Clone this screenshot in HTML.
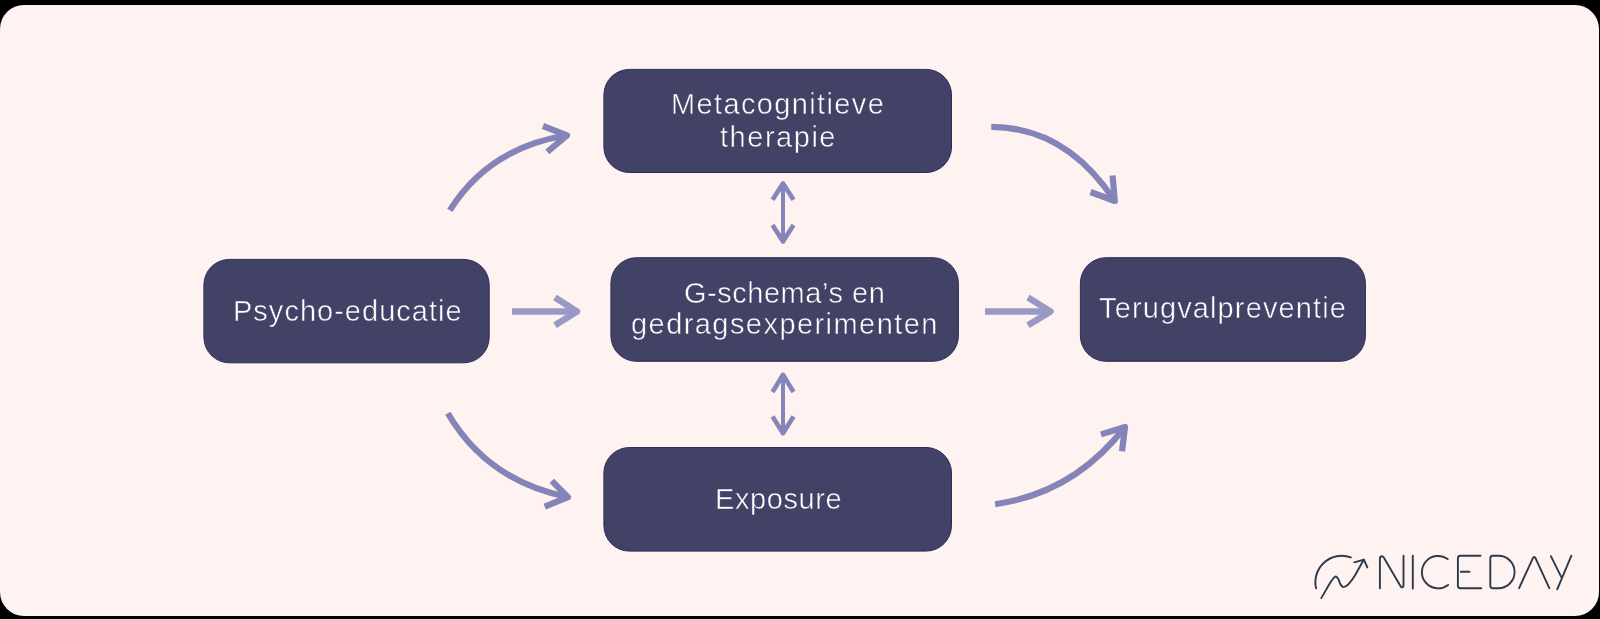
<!DOCTYPE html>
<html>
<head>
<meta charset="utf-8">
<style>
html,body{margin:0;padding:0;}
body{width:1600px;height:619px;background:#000;position:relative;overflow:hidden;font-family:"Liberation Sans",sans-serif;}
.bg{position:absolute;left:0;top:5px;width:1599px;height:611px;background:#fef3f1;border-radius:24px;}
.t{position:absolute;color:#fff;font-size:29px;line-height:32px;white-space:nowrap;will-change:transform;-webkit-text-stroke:0.5px #424166;}
svg{position:absolute;left:0;top:0;}
</style>
</head>
<body>
<div class="bg"></div>
<svg width="1600" height="619" viewBox="0 0 1600 619">
 <g fill="#424166" stroke="#2c2b5c" stroke-width="1">
  <rect x="203.9" y="259.4" width="285.3" height="103.4" rx="25.5"/>
  <rect x="603.9" y="69.4" width="347.6" height="103.1" rx="25.5"/>
  <rect x="610.9" y="257.7" width="347.5" height="103.6" rx="25.5"/>
  <rect x="603.9" y="447.5" width="347.6" height="103.6" rx="25.5"/>
  <rect x="1080.4" y="257.7" width="285.0" height="103.6" rx="25.5"/>
 </g>
 <g fill="none" stroke="#8584b9" stroke-width="6.2" stroke-linejoin="round">
  <path d="M449.8 210.4 Q488.9 147.8 567 135.3"/>
  <path d="M543 126 L567 135.3 L547.3 151.8"/>
  <path d="M991.3 126.9 Q1066 127 1114.8 201"/>
  <path d="M1112.6 175.5 L1114.8 201 L1090.5 192"/>
  <path d="M447.8 413.3 Q487.6 481 568 497.2"/>
  <path d="M551.8 480.9 L568 497.2 L544.7 506.7"/>
  <path d="M995.1 504.2 Q1074 493 1125 427"/>
  <path d="M1101 434.4 L1125 427 L1122 451.3"/>
 </g>
 <g fill="none" stroke="#9a98c5" stroke-width="6.5" stroke-linejoin="round">
  <path d="M512 311.4 L577 311.4"/>
  <path d="M555 297.5 L577 311.4 L555 325.3"/>
  <path d="M985 311.4 L1050.5 311.4"/>
  <path d="M1028 297.5 L1050.5 311.4 L1028 325.3"/>
 </g>
 <g fill="none" stroke="#8685ba" stroke-linejoin="round">
  <path stroke-width="4" d="M783 185 L783 240.5"/>
  <path stroke-width="4.6" d="M772.5 199.7 L783 183.5 L793.5 199.7"/>
  <path stroke-width="4.6" d="M772.5 225 L783 241.5 L793.5 225"/>
  <path stroke-width="4" d="M783 376 L783 432"/>
  <path stroke-width="4.6" d="M772.5 392 L783 374.8 L793.5 392"/>
  <path stroke-width="4.6" d="M772.5 416.5 L783 433.3 L793.5 416.5"/>
 </g>
 <g fill="none" stroke="#2c3a4b" stroke-width="1.9" stroke-linecap="round" stroke-linejoin="round">
  <path d="M1316.1 588.4 A26.4 26.4 0 0 1 1350.8 557.4"/>
  <path d="M1321.3 598.0 C1322.1 596.6 1324.6 592.4 1326.2 589.6 C1327.8 586.9 1329.5 583.7 1331.0 581.5 C1332.5 579.3 1334.2 577.0 1335.4 576.6 C1336.6 576.2 1337.4 577.8 1338.3 579.1 C1339.2 580.5 1339.8 583.4 1340.7 584.7 C1341.6 586.0 1342.3 587.1 1343.5 587.1 C1344.7 587.1 1346.0 586.7 1348.0 584.7 C1350.0 582.7 1352.6 579.2 1355.2 575.0 C1357.8 570.8 1362.3 562.2 1363.7 559.7"/>
  <path d="M1354.4 562.3 L1363.9 559.6 L1367.3 567.4"/>
  <path d="M1379.9 588.4 V559 Q1379.9 556.2 1381.9 556.2 Q1382.9 556.2 1383.6 557.3 L1400.6 586.2 Q1401.3 587.4 1402 587.4 Q1403.5 587.4 1403.5 585 V555.7"/>
  <path d="M1412.8 555.7 L1412.8 588.5"/>
  <path d="M1447.7 559.1 A16.2 16.2 0 1 0 1448.1 584.9"/>
  <path d="M1480.5 555.8 H1460.4 Q1457.9 555.8 1457.9 558.3 V585.7 Q1457.9 588.2 1460.4 588.2 H1481.2"/>
  <path d="M1460.8 571.8 L1469.5 571.8"/>
  <path d="M1490.3 558.3 V585.7 Q1490.3 588.2 1492.8 588.2 H1498.4 A16.2 16.2 0 0 0 1498.4 555.8 H1492.8 Q1490.3 555.8 1490.3 558.3 Z"/>
  <path d="M1519.1 588.2 L1532.8 558.3 Q1534.2 555.6 1535.6 558.3 L1549.3 588.2"/>
  <path d="M1550.9 556.2 L1561.2 576.9"/>
  <path d="M1571.4 555.7 L1557.2 589.3"/>
 </g>
</svg>
<div class="t" style="left:232.8px;top:294.7px;letter-spacing:1.014px">Psycho-educatie</div>
<div class="t" style="left:671.3px;top:88.2px;letter-spacing:1.362px">Metacognitieve</div>
<div class="t" style="left:720.2px;top:120.7px;letter-spacing:1.529px">therapie</div>
<div class="t" style="left:684px;top:276.7px;letter-spacing:0.525px">G-schema’s en</div>
<div class="t" style="left:631.2px;top:308.4px;letter-spacing:1.439px">gedragsexperimenten</div>
<div class="t" style="left:1099px;top:291.8px;letter-spacing:1.125px">Terugvalpreventie</div>
<div class="t" style="left:714.8px;top:482.9px;letter-spacing:0.6px">Exposure</div>


</body>
</html>
